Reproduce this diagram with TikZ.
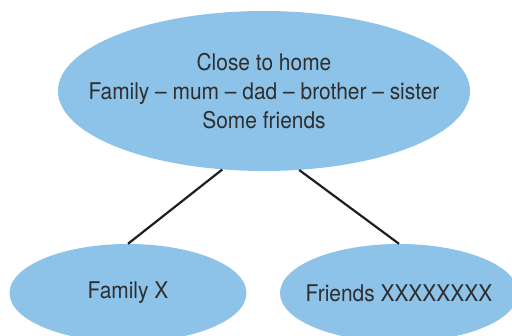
\documentclass[tikz,border=0pt]{standalone}
\usepackage{fontspec}
\setmainfont{TeX Gyre Heros}[FakeStretch=0.91]
\usetikzlibrary{shapes.geometric, positioning}
\definecolor{bubbleblue}{HTML}{8DC3E8}
\definecolor{inkgrey}{HTML}{2E2E2E}

\begin{document}
\begin{tikzpicture}[x=1pt, y=-1pt,
  bubble/.style={ellipse, inner sep=0pt, fill=bubbleblue},
  bubbletext/.style={font=\fontsize{23}{29}\selectfont, text=inkgrey, align=center},
  link/.style={line width=2.2pt, draw=black!88}]
\useasboundingbox (0,0) rectangle (512,336);
% Ellipses
\node[bubble, minimum width=412pt, minimum height=160pt] (home) at (264,91) {};
\node[bubble, minimum width=237pt, minimum height=98pt] (family) at (128,293) {};
\node[bubble, minimum width=238pt, minimum height=98pt] (friends) at (399,293) {};

% Add text
\node[bubbletext] (hometext) at (home) {Close to home\\Family -- mum -- dad -- brother -- sister\\Some friends};
\node[bubbletext] (familytext) at (family) {Family X};
\node[bubbletext] (friendstext) at (friends) {Friends XXXXXXXX};

% Lines
\draw[link] (home.242) -- (family.north);
\draw[link] (home.294) -- (friends.north);
\end{tikzpicture}
\end{document}
